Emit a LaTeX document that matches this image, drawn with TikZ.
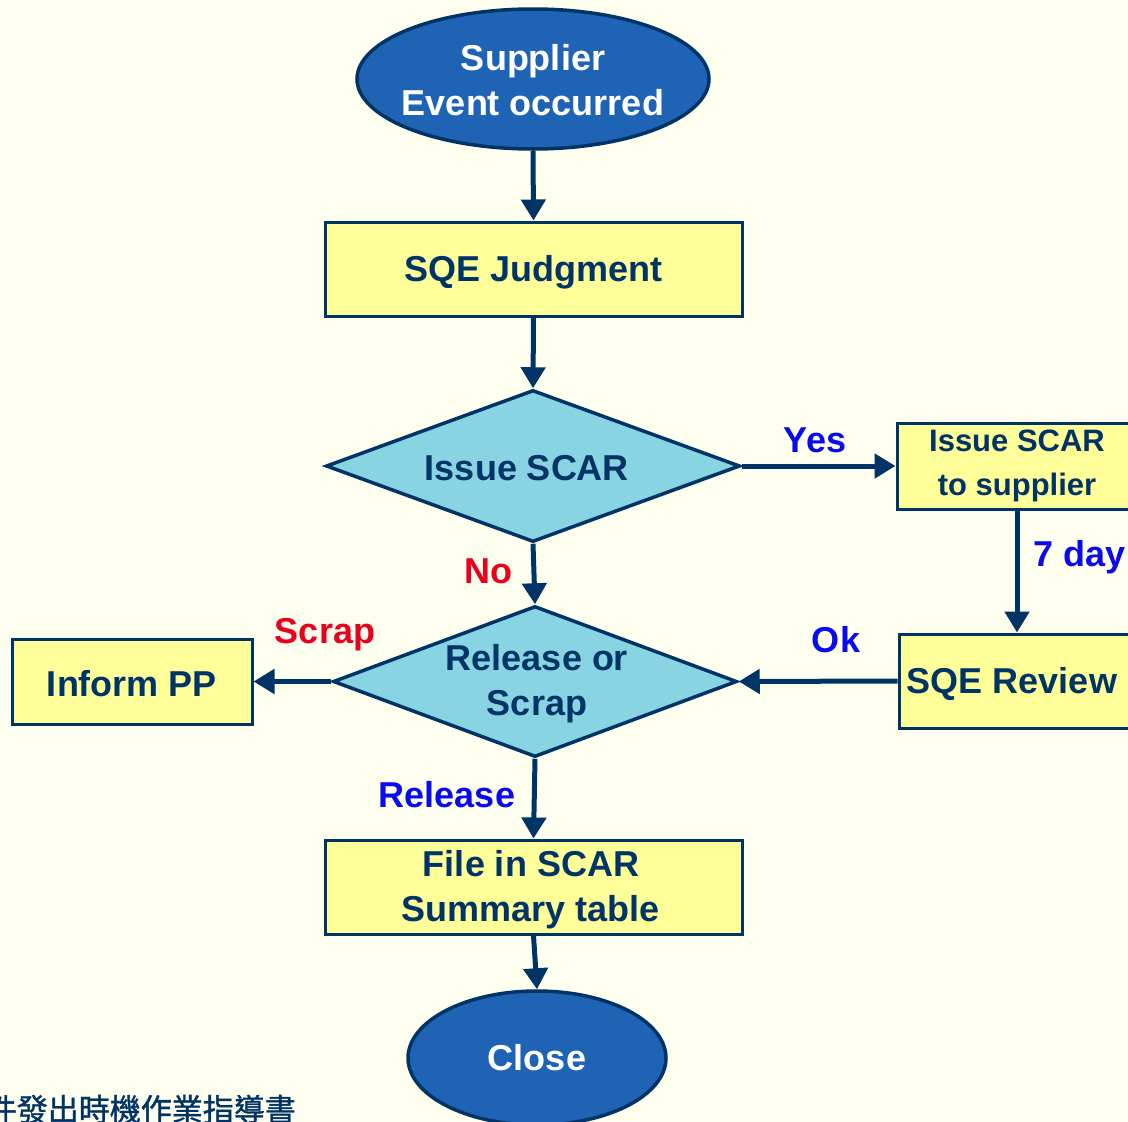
\documentclass[tikz,border=0pt]{standalone}
\usepackage{fontspec}
\setmainfont{Liberation Sans}
\newfontfamily\cjkfont[FakeBold=1.2]{Noto Sans CJK TC}
\usetikzlibrary{shapes.geometric,arrows.meta}
\definecolor{bgivory}{HTML}{FFFFEF}
\definecolor{navy}{HTML}{003366}
\definecolor{termblue}{HTML}{1F64B4}
\definecolor{boxyellow}{HTML}{FFFF99}
\definecolor{decisioncyan}{HTML}{88D4E2}
\definecolor{labelblue}{HTML}{0A0AF0}
\definecolor{labelred}{HTML}{E8001C}
\tikzset{
  x=1pt, y=-1pt,
  bigtext/.style={font=\fontsize{36}{45}\selectfont\bfseries},
  terminal/.style={ellipse, draw=navy, line width=3.5pt, fill=termblue,
    text=white, bigtext, align=center, inner sep=0pt},
  process/.style={rectangle, draw=navy, line width=3pt, fill=boxyellow,
    text=navy, bigtext, align=center, inner sep=0pt},
  decision/.style={diamond, aspect=2.72, draw=navy, line width=3.5pt,
    fill=decisioncyan, text=navy, bigtext, align=center, inner sep=0pt},
  flow/.style={draw=navy, line width=5pt,
    -{Triangle[width=24pt,length=21pt]}},
  branch/.style={bigtext, inner sep=0pt},
}
\begin{document}
\begin{tikzpicture}
\fill[bgivory] (0,0) rectangle (1128,1122);
\useasboundingbox (0,0) rectangle (1128,1122);

% terminals
\node[terminal, minimum width=352pt, minimum height=140pt] (start) at (533,79)
  {};
\node[text=white, bigtext, align=center] at (533,80) {Supplier\\Event occurred};
\node[terminal, minimum width=258pt, minimum height=134pt] (close) at (537,1058)
  {Close};

% process boxes
\node[process, minimum width=417pt, minimum height=94pt] (judge) at (533.5,269)
  {};
\node[text=navy, bigtext] at (533.5,272) {SQE Judgment};
\node[process, minimum width=240pt, minimum height=86pt,
      font=\fontsize{31}{44}\selectfont\bfseries] (issue) at (1017,466)
  {Issue SCAR\\to supplier};
\node[process, minimum width=236pt, minimum height=94pt] (review) at (1017,681)
  {};
\node[text=navy, bigtext] at (1012,684) {SQE Review};
\node[process, minimum width=240pt, minimum height=85pt] (inform) at (132,681.5)
  {};
\node[text=navy, bigtext] at (132,684) {Inform PP};
\node[process, minimum width=417pt, minimum height=94pt] (file) at (533.5,887)
  {};
\node[text=navy, bigtext, align=center] at (531,890) {File in SCAR\\Summary table};

% decisions
\node[decision, minimum width=414pt, minimum height=152pt] (scar) at (533,466)
  {};
\node[text=navy, bigtext] at (527,468) {Issue SCAR};
\node[decision, minimum width=404pt, minimum height=151pt] (rel) at (535,681.5)
  {};
\node[text=navy, bigtext, align=center] at (537,684) {Release or\\Scrap};

% connectors
\draw[flow] (start.south) -- (judge.north);
\draw[flow] (judge.south) -- (scar.north);
\draw[flow] (scar.east) -- (issue.west);
\draw[flow] (issue.south) -- (review.north);
\draw[flow] (review.west) -- (rel.east);
\draw[flow] (scar.south) -- (rel.north);
\draw[flow] (rel.west) -- (inform.east);
\draw[flow] (rel.south) -- (file.north);
\draw[flow] (file.south) -- (close.north);

% branch labels
\node[branch, text=labelblue] at (815,440) {Yes};
\node[branch, text=labelblue, anchor=west] at (1033,557) {7 day};
\node[branch, text=labelblue] at (836,640) {Ok};
\node[branch, text=labelred] at (488,571) {No};
\node[branch, text=labelred] at (325,635) {Scrap};
\node[branch, text=labelblue] at (447,795) {Release};

% document reference caption
\node[anchor=base east, text=navy, inner sep=0pt,
      font=\cjkfont\fontsize{31}{34}\selectfont] (caption) at (296,1121)
  {件發出時機作業指導書};
\end{tikzpicture}
\end{document}
